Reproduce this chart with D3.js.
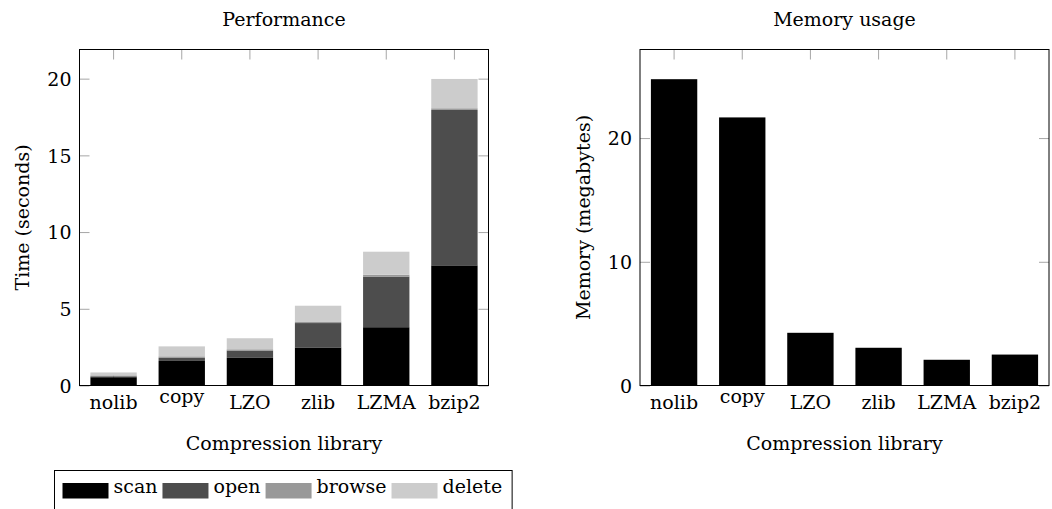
<!DOCTYPE html>
<html>
<head>
<meta charset="utf-8">
<script src="https://cdn.jsdelivr.net/npm/d3@7"></script>
<style>
  body { margin: 0; background: #fff; }
  svg text { font-family: "DejaVu Serif", serif; fill: #000; }
</style>
</head>
<body>
<svg id="chart" width="1052" height="509"></svg>
<script>

// categories along x, shared by both panels
var libraries = ['nolib', 'copy', 'LZO', 'zlib', 'LZMA', 'bzip2'];

// performance (seconds), stacked
var scanTime   = [0.54, 1.6, 1.8, 2.48, 3.8, 7.83];
var openTime   = [0.06, 0.2, 0.48, 1.59, 3.3, 10.13];
var browseTime = [0.06, 0.1, 0.08, 0.1, 0.12, 0.11];
var deleteTime = [0.19, 0.65, 0.72, 1.03, 1.5, 1.91];
var stages = ['scan', 'open', 'browse', 'delete'];
var stageColors = ['#000000', '#4d4d4d', '#999999', '#cccccc'];

// memory usage (megabytes)
var memoryMB = [24.76, 21.67, 4.26, 3.05, 2.08, 2.5];

var timeTicks = [0, 5, 10, 15, 20];
var memoryTicks = [0, 10, 20];

var FONT = 19;
var svg = d3.select('#chart');

function drawFrame(g, x, y, w, h, ticks, title, ylabel, ylabelX) {

    //inward gray ticks on all four sides
    var tl = g.append('g').call(d3.axisLeft(y).tickValues(ticks).tickSize(-10).tickPadding(8));
    var tr = g.append('g').attr('transform', 'translate(' + w + ',0)')
        .call(d3.axisRight(y).tickValues(ticks).tickSize(-10).tickFormat(''));
    var tt = g.append('g').call(d3.axisTop(x).tickSize(-10).tickFormat(''));
    var tb = g.append('g').attr('transform', 'translate(0,' + h + ')')
        .call(d3.axisBottom(x).tickSize(-10).tickPadding(0));

    [tl, tr, tt, tb].forEach(function (a) {
        a.select('.domain').remove();
        a.selectAll('line').attr('stroke', '#a6a6a6').attr('stroke-width', 1);
        a.selectAll('text').style('font-size', FONT + 'px').style('font-family', '"DejaVu Serif", serif');
    });
    tl.selectAll('text').attr('dy', '0.36em');

    // pgfplots hangs labels from their top, so "copy" sits higher
    tb.selectAll('text')
        .attr('dy', null)
        .attr('y', function (d) { return /[A-Zbdfhiklt0-9]/.test(d) ? 23 : 17.5; });

    g.append('text')
        .attr('x', w / 2).attr('y', -24)
        .attr('text-anchor', 'middle')
        .style('font-size', FONT + 'px')
        .text(title);

    g.append('text')
        .attr('x', w / 2).attr('y', h + 64)
        .attr('text-anchor', 'middle')
        .style('font-size', FONT + 'px')
        .text('Compression library');

    g.append('text')
        .attr('transform', 'translate(' + ylabelX + ',' + (h / 2) + ') rotate(-90)')
        .attr('dy', '0.35em')
        .attr('text-anchor', 'middle')
        .style('font-size', FONT + 'px')
        .text(ylabel);

    return tb;
}

function outline(g, w, h) {
    g.append('rect')
        .attr('x', 0).attr('y', 0).attr('width', w).attr('height', h)
        .attr('fill', 'none').attr('stroke', '#000').attr('stroke-width', 1);
}

//********PERFORMANCE PANEL******
var W = 409, H = 336;
var left = svg.append('g').attr('transform', 'translate(79.5,49.5)');

var xL = d3.scaleBand().domain(libraries).range([0, W]).paddingInner(0.32).paddingOuter(0.16);
var yL = d3.scaleLinear().domain([0, 21.9]).range([H, 0]);

drawFrame(left, xL, yL, W, H, timeTicks, 'Performance', 'Time (seconds)', -57);

var rows = libraries.map(function (lib, i) {
    return { lib: lib, scan: scanTime[i], open: openTime[i], browse: browseTime[i], 'delete': deleteTime[i] };
});
var series = d3.stack().keys(stages)(rows);

left.append('g').selectAll('g')
    .data(series).enter().append('g')
    .attr('fill', function (d, i) { return stageColors[i]; })
    .selectAll('rect')
    .data(function (d) { return d; }).enter().append('rect')
    .attr('x', function (d) { return xL(d.data.lib); })
    .attr('width', xL.bandwidth())
    .attr('y', function (d) { return yL(d[1]); })
    .attr('height', function (d) { return yL(d[0]) - yL(d[1]); });

outline(left, W, H);

//********MEMORY PANEL******
var right = svg.append('g').attr('transform', 'translate(640,49.5)');

var xR = d3.scaleBand().domain(libraries).range([0, W]).paddingInner(0.32).paddingOuter(0.16);
var yR = d3.scaleLinear().domain([0, 27.16]).range([H, 0]);

drawFrame(right, xR, yR, W, H, memoryTicks, 'Memory usage', 'Memory (megabytes)', -57);

right.append('g').selectAll('rect')
    .data(memoryMB).enter().append('rect')
    .attr('x', function (d, i) { return xR(libraries[i]); })
    .attr('width', xR.bandwidth())
    .attr('y', function (d) { return yR(d); })
    .attr('height', function (d) { return H - yR(d); })
    .attr('fill', '#000');

outline(right, W, H);

//********LEGEND******
var legend = svg.append('g').attr('transform', 'translate(54.5,470.5)');
var legendBox = legend.append('rect')
    .attr('fill', '#fff').attr('stroke', '#000').attr('stroke-width', 1)
    .attr('height', 60);

var cursor = 8;
stages.forEach(function (name, i) {
    if (i > 0) cursor += 5;
    legend.append('rect')
        .attr('x', cursor).attr('y', 12.5)
        .attr('width', 46).attr('height', 15.5)
        .attr('fill', stageColors[i]);
    var t = legend.append('text')
        .attr('x', cursor + 51).attr('y', 22.5)
        .style('font-size', FONT + 'px')
        .text(name);
    cursor += 51 + t.node().getComputedTextLength();
});
legendBox.attr('width', cursor + 10);

</script>
</body>
</html>
